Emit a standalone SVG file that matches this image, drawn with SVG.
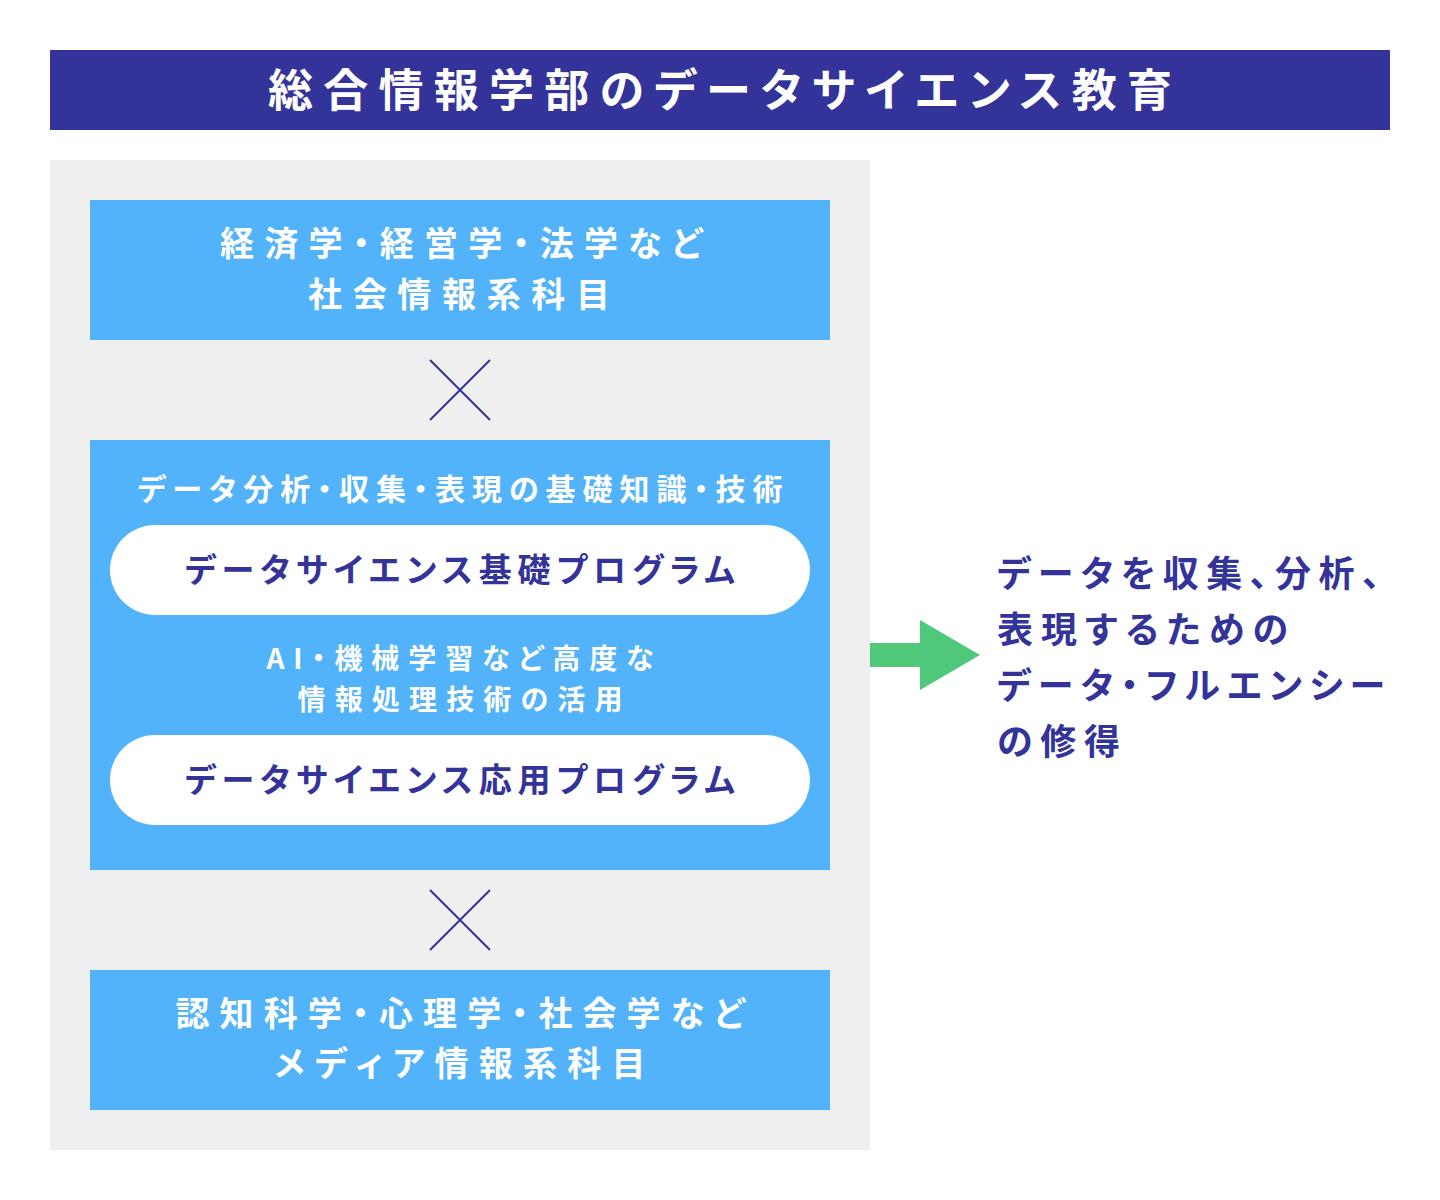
<svg xmlns="http://www.w3.org/2000/svg" width="1440" height="1200" viewBox="0 0 1440 1200">
<defs>
<style>
text{font-family:"Noto Sans CJK JP","Noto Sans",sans-serif;font-weight:700;font-feature-settings:"palt" 1;}
.w{fill:#ffffff;}
.d{fill:#333399;}
.box{fill:#52b3fa;}
.pill{fill:#ffffff;}
.x{stroke:#333399;stroke-width:2;fill:none;}
</style>
</defs>
<rect width="1440" height="1200" fill="#ffffff"/>
<g id="title">
<rect x="50" y="50" width="1340" height="80" fill="#333399"/>
<text class="w" x="720" y="107" font-size="45" text-anchor="middle" textLength="904" lengthAdjust="spacing">総合情報学部のデータサイエンス教育</text>
</g>
<g id="panel">
<rect x="50" y="160" width="820" height="990" fill="#efefef"/>
</g>
<g id="social">
<rect class="box" x="90" y="200" width="740" height="140"/>
<text class="w" x="461" y="256" font-size="34" text-anchor="middle" textLength="482" lengthAdjust="spacing">経済学・経営学・法学など</text>
<text class="w" x="459" y="307" font-size="34" text-anchor="middle" textLength="302" lengthAdjust="spacing">社会情報系科目</text>
</g>
<g id="ds">
<rect class="box" x="90" y="440" width="740" height="430"/>
<text class="w" x="460" y="500" font-size="30" text-anchor="middle" textLength="645" lengthAdjust="spacing">データ分析・収集・表現の基礎知識・技術</text>
<g id="ds-basic">
<rect class="pill" x="110" y="525" width="700" height="90" rx="45"/>
<text class="d" x="460" y="582" font-size="33" text-anchor="middle" textLength="550" lengthAdjust="spacing">データサイエンス基礎プログラム</text>
</g>
<text class="w" x="460" y="669" font-size="28" text-anchor="middle" textLength="387" lengthAdjust="spacing">AI・機械学習など高度な</text>
<text class="w" x="460" y="710" font-size="28" text-anchor="middle" textLength="325" lengthAdjust="spacing">情報処理技術の活用</text>
<g id="ds-applied">
<rect class="pill" x="110" y="735" width="700" height="90" rx="45"/>
<text class="d" x="460" y="792" font-size="33" text-anchor="middle" textLength="550" lengthAdjust="spacing">データサイエンス応用プログラム</text>
</g>
</g>
<g id="media">
<rect class="box" x="90" y="970" width="740" height="140"/>
<text class="w" x="460" y="1026" font-size="34" text-anchor="middle" textLength="569" lengthAdjust="spacing">認知科学・心理学・社会学など</text>
<text class="w" x="460" y="1076" font-size="34" text-anchor="middle" textLength="371" lengthAdjust="spacing">メディア情報系科目</text>
</g>
<g id="connectors">
<path class="x" d="M430 360L490 420M490 360L430 420"/>
<path class="x" d="M430 890L490 950M490 890L430 950"/>
<path d="M870 643H920V620L980 655L920 690V667H870Z" fill="#4fc87a"/>
</g>
<g id="result">
<text class="d" x="997" y="587" font-size="36" textLength="383" lengthAdjust="spacing">データを収集、分析、</text>
<text class="d" x="997" y="643" font-size="36" textLength="291" lengthAdjust="spacing">表現するための</text>
<text class="d" x="997" y="699" font-size="36" textLength="388" lengthAdjust="spacing">データ・フルエンシー</text>
<text class="d" x="997" y="755" font-size="36" textLength="123" lengthAdjust="spacing">の修得</text>
</g>
</svg>
